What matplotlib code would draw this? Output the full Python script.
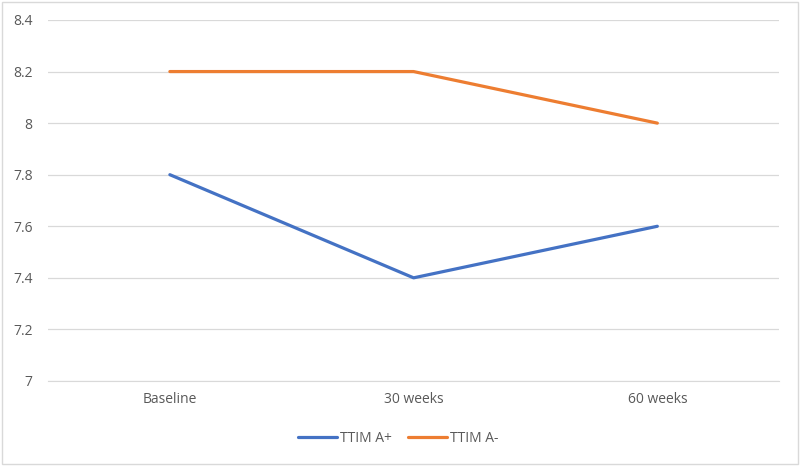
import matplotlib.pyplot as plt
from matplotlib.patches import Rectangle

categories = ['Baseline', '30 weeks', '60 weeks']
ttim_a_plus = [7.8, 7.4, 7.6]
ttim_a_minus = [8.2, 8.2, 8.0]
y_ticks = [7, 7.2, 7.4, 7.6, 7.8, 8, 8.2, 8.4]
y_tick_labels = ['7', '7.2', '7.4', '7.6', '7.8', '8', '8.2', '8.4']

plt.rcParams['font.family'] = ['Open Sans', 'DejaVu Sans']

fig = plt.figure(figsize=(8, 4.67), dpi=100)
ax = fig.add_axes([0.06, 0.1842, 0.914, 0.773])

x = range(len(categories))
ax.plot(x, ttim_a_plus, color='#4472C4', linewidth=2.3, label='TTIM A+', solid_capstyle='round')
ax.plot(x, ttim_a_minus, color='#ED7D31', linewidth=2.3, label='TTIM A-', solid_capstyle='round')

ax.set_xlim(-0.5, len(categories) - 0.5)
ax.set_ylim(7, 8.4)
ax.set_xticks(list(x))
ax.set_xticklabels(categories)
ax.set_yticks(y_ticks)
ax.set_yticklabels(y_tick_labels)
ax.tick_params(axis='both', length=0, labelsize=10, labelcolor='#595959')
ax.tick_params(axis='x', pad=8)
ax.tick_params(axis='y', pad=11)
ax.grid(axis='y', color='#D9D9D9', linewidth=0.9)
ax.set_axisbelow(True)
for side in ['top', 'right', 'left']:
    ax.spines[side].set_visible(False)
ax.spines['bottom'].set_color('#D9D9D9')

ax.legend(loc='center', bbox_to_anchor=(0.479, -0.16), ncol=2, frameon=False,
          fontsize=10, labelcolor='#595959', handlelength=2.8, handletextpad=0.2,
          columnspacing=1.2)

fig.patches.append(Rectangle((0.002, 0.006), 0.996, 0.99, transform=fig.transFigure,
                             fill=False, edgecolor='#D9D9D9', linewidth=1))

fig.savefig('out.png', dpi=100)
